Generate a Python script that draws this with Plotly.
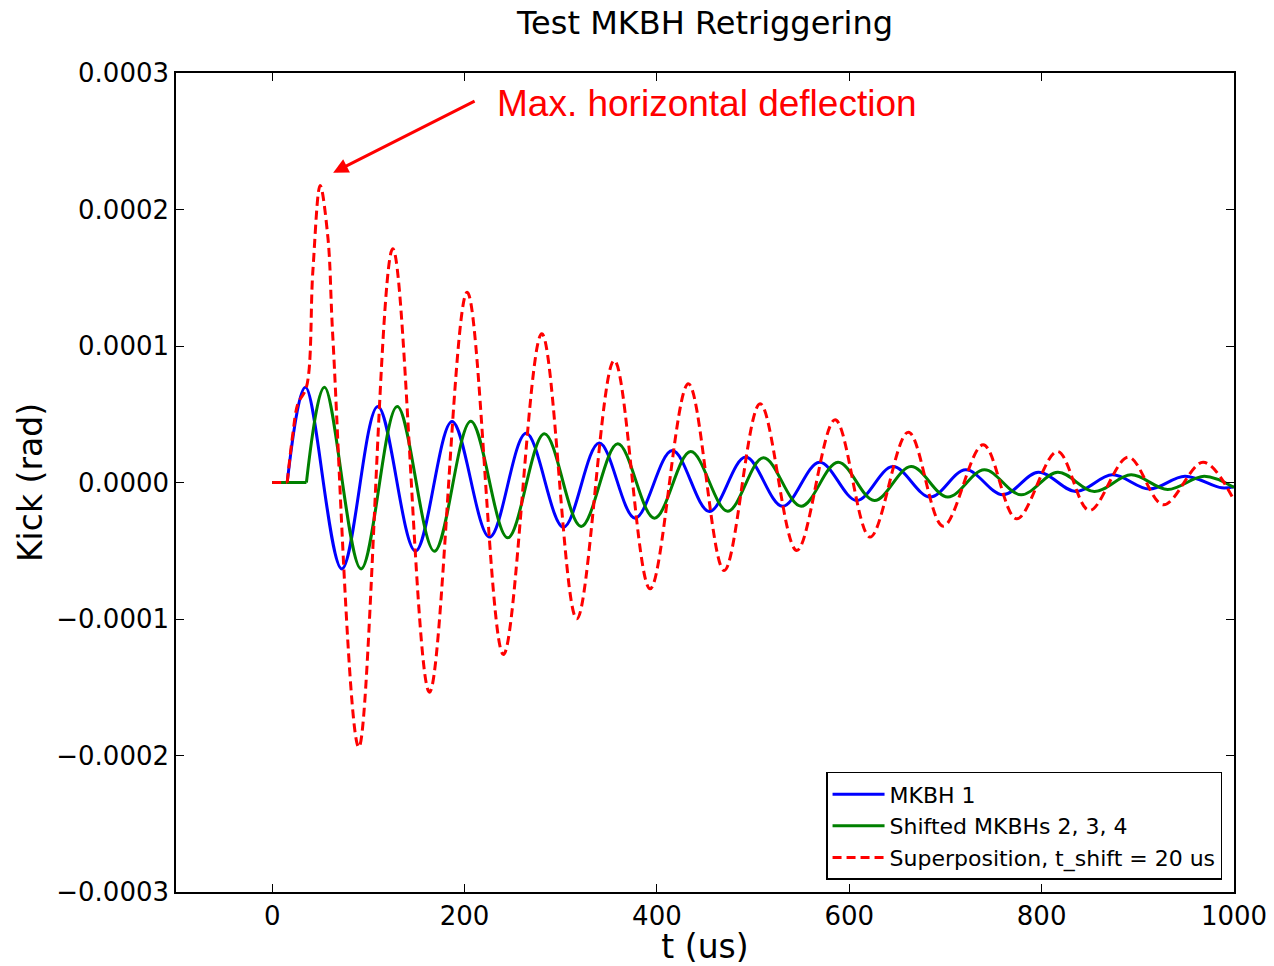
import plotly.graph_objects as go

# ---- Data (t in us, kick in rad) ----
# first two points of each series: the flat part before the trigger
t_mkbh1 = [0, 15.6, 34.6, 72.4, 109.8, 149.0, 187.0, 226.0, 264.0, 302.8, 340.0, 377.3,
           416.0, 454.5, 492.2, 530.6, 569.0, 607.8, 645.2, 684.0, 721.0, 759.6, 796.6,
           835.4, 873.5, 911.9, 949.0, 987.2, 1000]
k_mkbh1 = [0, 0, 6.98e-5, -6.33e-5, 5.57e-5, -5.03e-5, 4.47e-5, -4.0e-5, 3.61e-5, -3.27e-5,
           2.9e-5, -2.61e-5, 2.34e-5, -2.12e-5, 1.86e-5, -1.74e-5, 1.49e-5, -1.32e-5,
           1.17e-5, -1.07e-5, 0.93e-5, -0.9e-5, 0.75e-5, -0.66e-5, 0.56e-5, -0.48e-5,
           0.46e-5, -0.39e-5, -0.3e-5]

t_shifted = [0, 35.6, 54.4, 92.4, 130.0, 168.7, 206.5, 244.9, 283.0, 321.2, 359.3, 397.4,
             435.1, 473.6, 510.7, 549.9, 588.3, 626.1, 664.2, 702.4, 740.4, 778.6, 816.7,
             854.8, 893.0, 931.0, 969.1, 1000]
k_shifted = [0, 0, 6.98e-5, -6.33e-5, 5.57e-5, -5.03e-5, 4.49e-5, -4.05e-5, 3.57e-5,
             -3.22e-5, 2.83e-5, -2.61e-5, 2.27e-5, -2.1e-5, 1.81e-5, -1.74e-5, 1.49e-5,
             -1.32e-5, 1.17e-5, -1.07e-5, 0.93e-5, -0.9e-5, 0.75e-5, -0.66e-5, 0.56e-5,
             -0.51e-5, 0.46e-5, -0.36e-5]

t_super = [0, 15.6, 21.5, 26.7, 35.6, 42.3, 49.9, 57.9, 63.1, 90.1, 125.4, 163.5, 202.7,
           240.4, 280.3, 316.7, 355.6, 392.9, 432.7, 469.9, 507.3, 545.4, 585.3, 621.6,
           661.4, 697.6, 739.2, 774.0, 816.4, 849.6, 890.1, 926.5, 968.0, 1000]
k_super = [0, 0, 3.57e-5, 5.77e-5, 6.98e-5, 15.5e-5, 21.76e-5, 17.97e-5, 10.6e-5,
           -19.39e-5, 17.12e-5, -15.36e-5, 13.94e-5, -12.6e-5, 10.89e-5, -9.99e-5,
           8.94e-5, -7.79e-5, 7.23e-5, -6.45e-5, 5.77e-5, -4.98e-5, 4.59e-5, -4.0e-5,
           3.69e-5, -3.2e-5, 2.76e-5, -2.66e-5, 2.27e-5, -2.05e-5, 1.85e-5, -1.63e-5,
           1.49e-5, -1.3e-5]

x_ticks = [0, 200, 400, 600, 800, 1000]
y_ticks = [-0.0003, -0.0002, -0.0001, 0.0, 0.0001, 0.0002, 0.0003]

series_names = ["MKBH 1", "Shifted MKBHs 2, 3, 4", "Superposition, t_shift = 20 us"]
series = [(t_mkbh1, k_mkbh1, "#0000ff", "solid"),
          (t_shifted, k_shifted, "#008000", "solid"),
          (t_super, k_super, "#ff0000", "9px,5px")]

fig = go.Figure()
for name, (tx, ky, col, dash) in zip(series_names, series):
    # flat pre-trigger part (straight) + oscillation (smooth)
    fig.add_trace(go.Scatter(x=tx[:2], y=ky[:2], mode="lines", name=name, legendgroup=name,
                             showlegend=False, hoverinfo="skip",
                             line=dict(color=col, width=3, dash=dash)))
    fig.add_trace(go.Scatter(x=tx[1:], y=ky[1:], mode="lines", name=name, legendgroup=name,
                             line=dict(color=col, width=3, dash=dash, shape="spline",
                                       smoothing=1.0)))

axis_common = dict(showline=True, linecolor="black", linewidth=1.5, mirror="ticks",
                   ticks="inside", ticklen=8, tickcolor="black", tickwidth=1,
                   showgrid=False, zeroline=False, automargin=False,
                   tickfont=dict(family="DejaVu Sans", size=26, color="black"))

fig.update_xaxes(range=[-100, 1000], tickvals=x_ticks,
                 title=dict(text="t (us)", font=dict(family="DejaVu Sans", size=33, color="black"),
                            standoff=2),
                 **axis_common)
fig.update_yaxes(range=[-0.0003, 0.0003], tickvals=y_ticks, tickformat=".4f",
                 title=dict(text="Kick (rad)", font=dict(family="DejaVu Sans", size=33, color="black"),
                            standoff=4),
                 **axis_common)

fig.add_annotation(x=63.4, y=2.27e-4, ax=212, ay=2.8e-4, xref="x", yref="y",
                   axref="x", ayref="y", text="", showarrow=True,
                   arrowhead=2, arrowsize=1.0, arrowwidth=3, arrowcolor="#ff0000")
fig.add_annotation(x=231.8, y=2.78e-4, xref="x", yref="y", text="Max. horizontal deflection",
                   showarrow=False, xanchor="left", yanchor="middle",
                   font=dict(family="Liberation Sans", size=37, color="#ff0000"))

W, H = 1274, 966
fig.update_layout(
    width=W, height=H,
    margin=dict(l=176, r=40, t=73, b=74),
    paper_bgcolor="white", plot_bgcolor="white",
    title=dict(text="Test MKBH Retriggering", x=705 / W, xanchor="center",
               y=1 - 23 / H, yanchor="middle", yref="container",
               font=dict(family="DejaVu Sans", size=32, color="black")),
    legend=dict(x=0.9887, y=0.0147, xanchor="right", yanchor="bottom",
                bgcolor="white", bordercolor="black", borderwidth=1.5,
                font=dict(family="DejaVu Sans", size=22, color="black"),
                tracegroupgap=0, itemwidth=52),
    showlegend=True,
)

# remove the default page margin so the figure fills the window exactly
fig.write_html("out.html", config={"displayModeBar": False},
               post_script="document.body.style.margin='0';document.body.style.overflow='hidden';")
